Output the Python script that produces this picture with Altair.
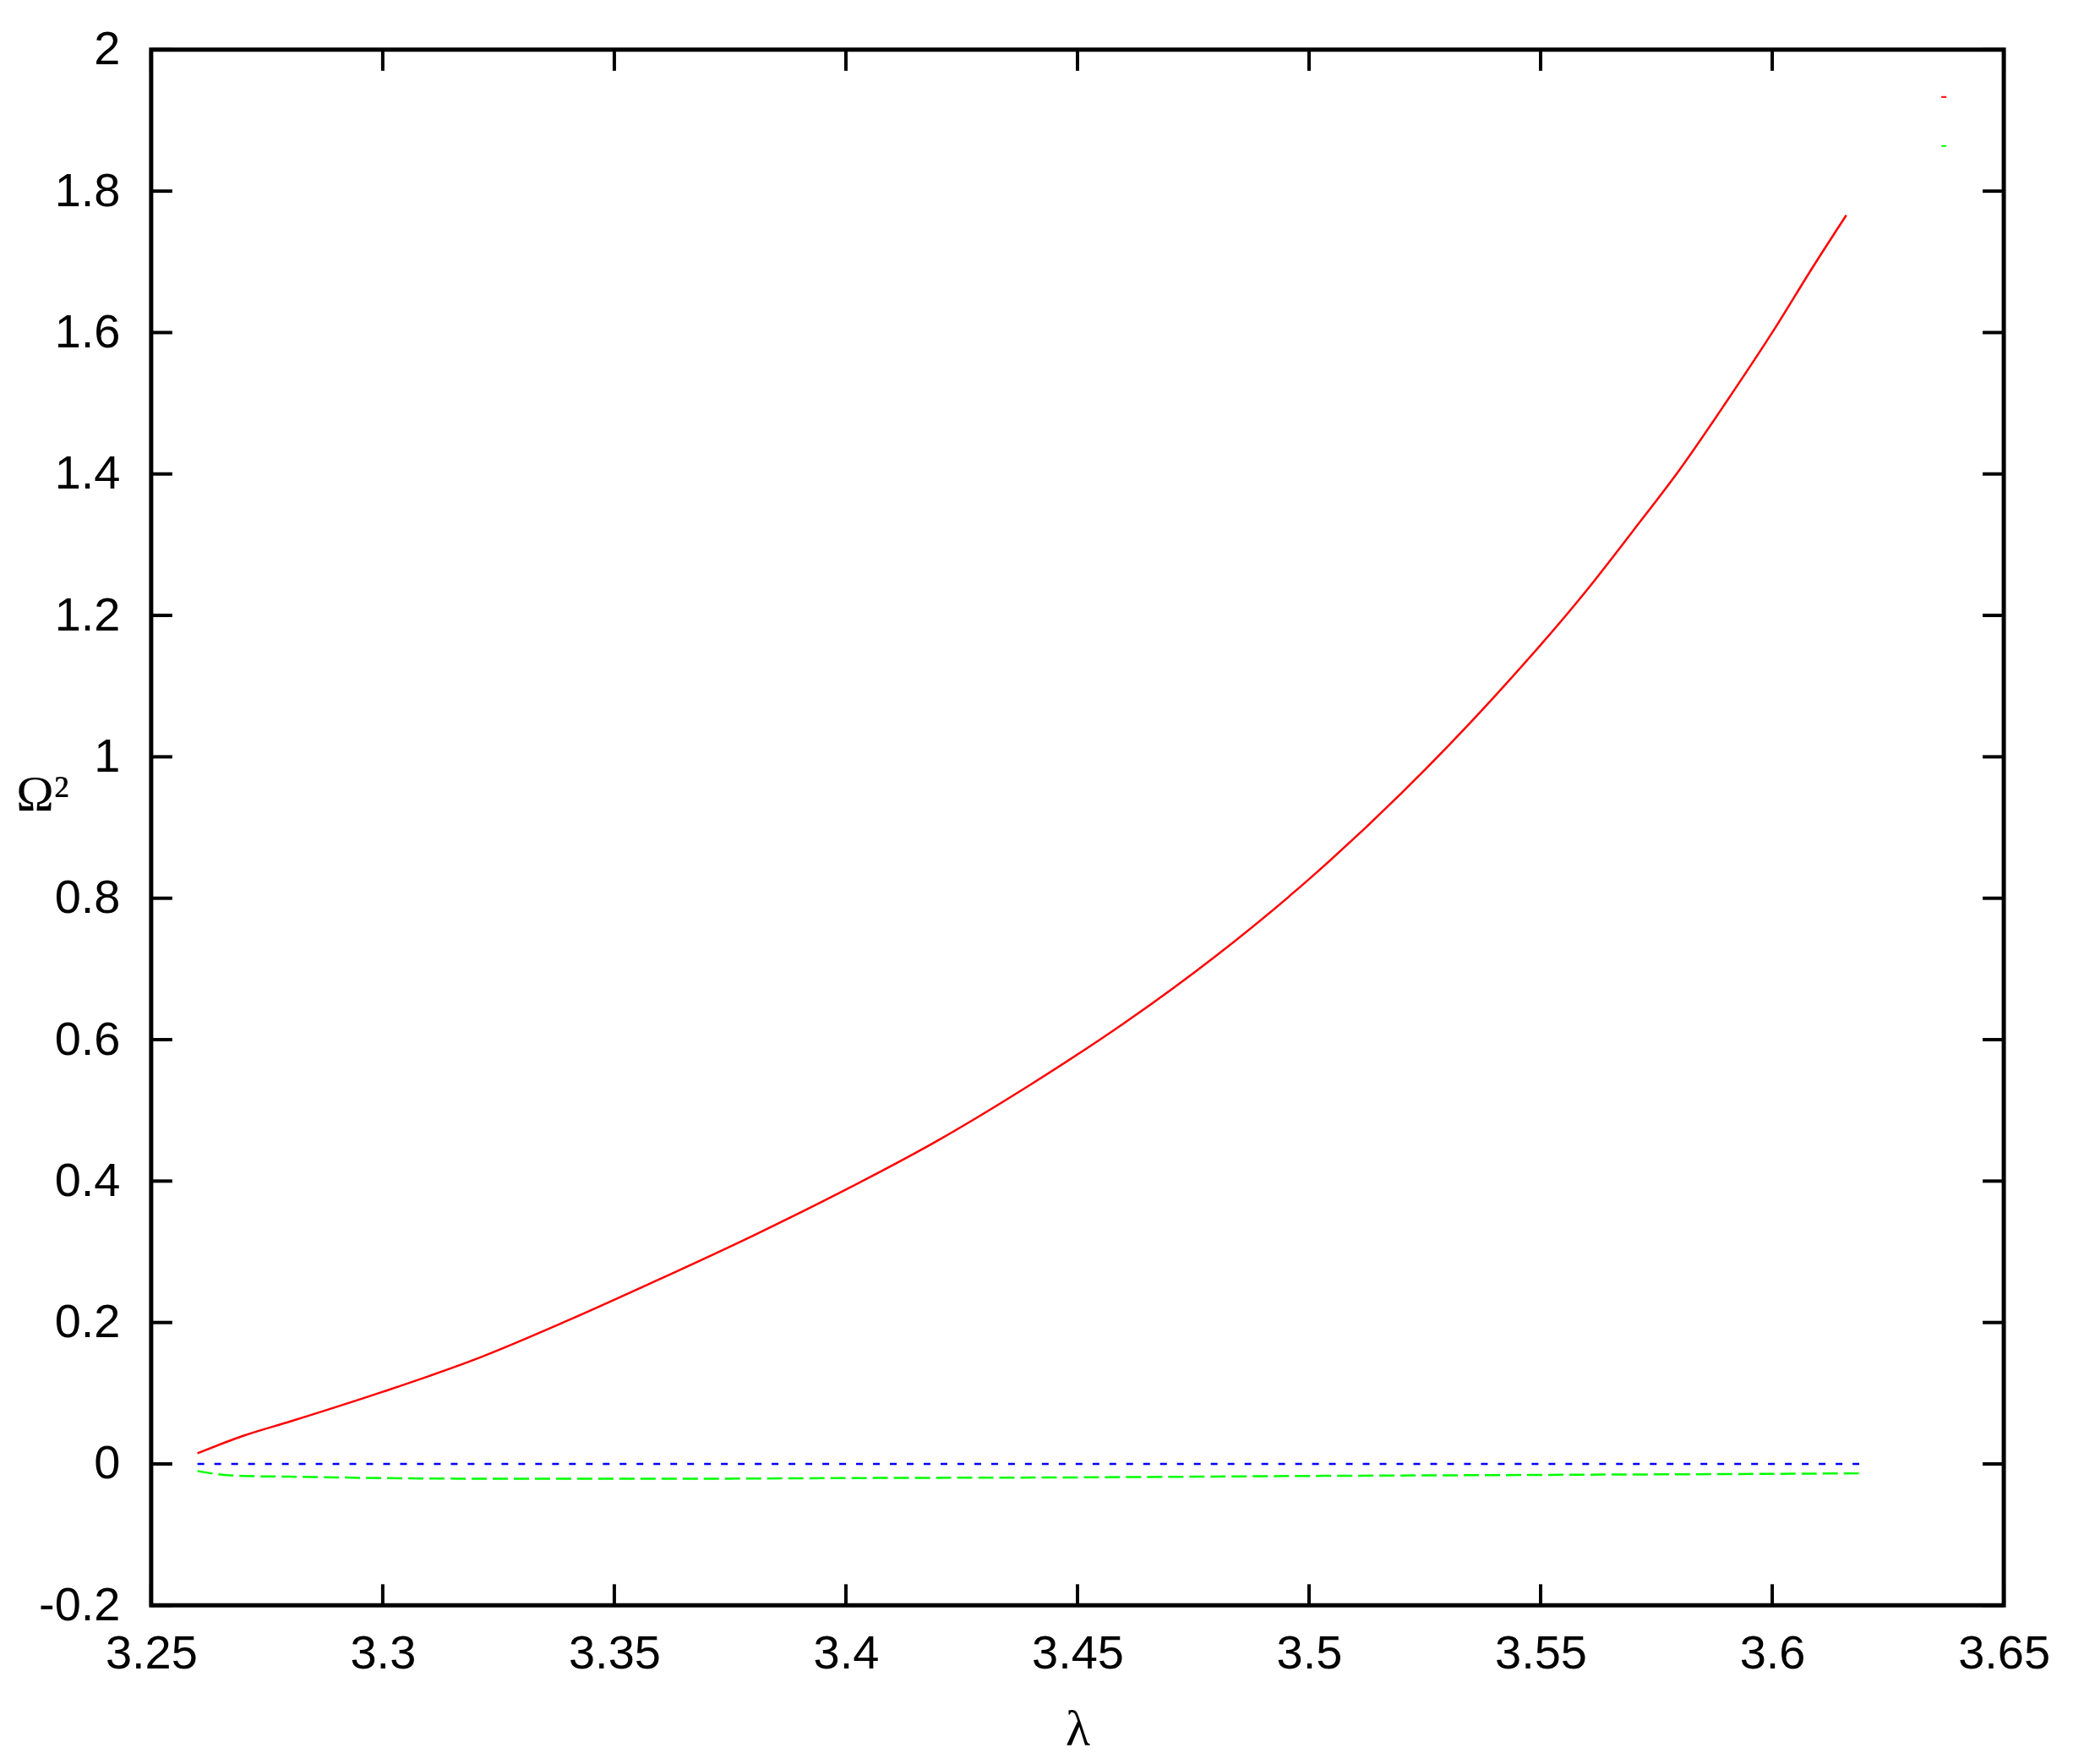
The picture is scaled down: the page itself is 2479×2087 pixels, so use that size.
import altair as alt
import pandas as pd

# data
red_lam = [3.26, 3.27, 3.28, 3.30, 3.32, 3.34, 3.36, 3.38, 3.40, 3.42, 3.44,
           3.46, 3.48, 3.50, 3.52, 3.54, 3.56, 3.57, 3.58, 3.59, 3.60, 3.609, 3.616]
red_val = [0.015, 0.040, 0.060, 0.102, 0.148, 0.203, 0.262, 0.323, 0.388, 0.458,
           0.537, 0.623, 0.719, 0.827, 0.949, 1.085, 1.236, 1.320, 1.406, 1.501,
           1.600, 1.695, 1.766]

green_lam = [3.26, 3.265, 3.27, 3.28, 3.30, 3.33, 3.36, 3.40, 3.45, 3.50, 3.55, 3.60, 3.619]
green_val = [-0.010, -0.015, -0.017, -0.018, -0.020, -0.021, -0.021, -0.020,
             -0.019, -0.017, -0.0155, -0.014, -0.0133]

blue_lam = [3.26, 3.619]
blue_val = [0.0, 0.0]

x_ticks = [3.25, 3.3, 3.35, 3.4, 3.45, 3.5, 3.55, 3.6, 3.65]
y_ticks = [-0.2, 0, 0.2, 0.4, 0.6, 0.8, 1, 1.2, 1.4, 1.6, 1.8, 2]

W, H = 2194, 1842

red_df = pd.DataFrame({"lam": red_lam, "val": red_val, "s": "a"})
green_df = pd.DataFrame({"lam": green_lam, "val": green_val, "s": "b"})
blue_df = pd.DataFrame({"lam": blue_lam, "val": blue_val})
xt_df = pd.DataFrame({"lam": x_ticks})
yt_df = pd.DataFrame({"val": y_ticks})

xs = alt.Scale(domain=[3.25, 3.65], nice=False, zero=False)
ys = alt.Scale(domain=[-0.2, 2], nice=False, zero=False)
cs = alt.Scale(domain=["a", "b"], range=["#ff0000", "#00ff00"])

lab_expr = "replace(format(datum.value, '~g'), '\u2212', '-')"

x_axis = alt.Axis(values=x_ticks, ticks=False, domain=False, grid=False,
                  labelFont="Liberation Sans", labelFontSize=56, labelColor="black",
                  labelPadding=30, labelFlush=False, labelOverlap=False,
                  labelExpr=lab_expr,
                  title="λ", titleFont="Liberation Serif", titleFontSize=60,
                  titleFontWeight="normal", titleColor="black",
                  titleX=W / 2, titleY=165, titleBaseline="alphabetic",
                  titleAlign="center")
y_axis = alt.Axis(values=y_ticks, ticks=False, domain=False, grid=False,
                  labelFont="Liberation Sans", labelFontSize=56, labelColor="black",
                  labelPadding=37, labelOverlap=False, labelExpr=lab_expr,
                  title="Ω²", titleFont="Liberation Serif", titleFontSize=60,
                  titleFontWeight="normal", titleColor="black", titleAngle=0,
                  titleX=-129, titleY=882, titleAlign="center",
                  titleBaseline="middle")

legend = alt.Legend(orient="none", legendX=2119, legendY=52, title=None,
                    symbolType="stroke", symbolSize=36, symbolStrokeWidth=2,
                    labelExpr="''", labelFontSize=6, rowPadding=50, padding=0,
                    symbolOffset=0)

X = alt.X("lam:Q", scale=xs, axis=x_axis)
Y = alt.Y("val:Q", scale=ys, axis=y_axis)

red = alt.Chart(red_df).mark_line(strokeWidth=2.5, interpolate="monotone").encode(
    x=X, y=Y,
    color=alt.Color("s:N", scale=cs, legend=legend),
)
green = alt.Chart(green_df).mark_line(strokeWidth=2.5, strokeDash=[18, 7],
                                      interpolate="monotone").encode(
    x=X, y=Y,
    color=alt.Color("s:N", scale=cs, legend=legend),
)
blue = alt.Chart(blue_df).mark_line(strokeWidth=2.5, strokeDash=[8, 12],
                                    color="#0000ff").encode(x=X, y=Y)

tick_style = dict(color="black", strokeWidth=4)
bt = alt.Chart(xt_df).mark_rule(**tick_style).encode(
    x=X, y=alt.value(H), y2=alt.value(H - 25))
tt = alt.Chart(xt_df).mark_rule(**tick_style).encode(
    x=X, y=alt.value(0), y2=alt.value(25))
lt = alt.Chart(yt_df).mark_rule(**tick_style).encode(
    y=Y, x=alt.value(0), x2=alt.value(25))
rt = alt.Chart(yt_df).mark_rule(**tick_style).encode(
    y=Y, x=alt.value(W), x2=alt.value(W - 25))

chart = alt.layer(red, green, blue, bt, tt, lt, rt).properties(
    width=W, height=H,
    autosize=alt.AutoSizeParams(type="none"),
    padding={"left": 171, "top": 50, "right": 100, "bottom": 185},
    background="white",
).configure_view(stroke="black", strokeWidth=5)

chart.save("out.html", embed_options={"renderer": "svg", "actions": False})
